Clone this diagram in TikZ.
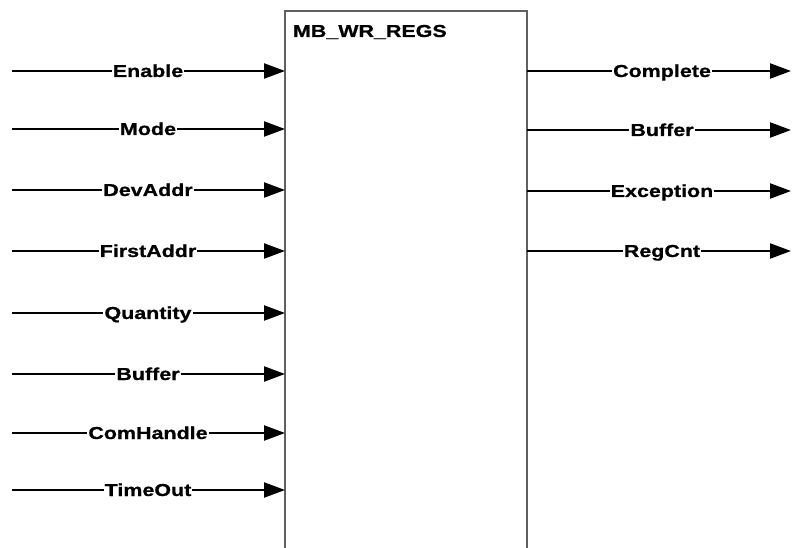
\documentclass[tikz,border=0pt]{standalone}
\usepackage{fontspec}
\setmainfont{Liberation Sans}
\newfontfamily\sigfont[FakeStretch=1.24, FakeBold=0.8]{Liberation Sans}
\usepackage{xcolor}
\usepackage{tikz}
\usetikzlibrary{arrows.meta}
\definecolor{boxgray}{RGB}{96,96,96}

\begin{document}
\begin{tikzpicture}[
  x=1pt, y=-1pt,
  sig/.style={fill=white, inner sep=0.8pt, font={\sigfont\bfseries\fontsize{17.3}{20}\selectfont}, text height=12pt, text depth=0pt},
  wire/.style={line width=2.2pt},
  arr/.style={-{Triangle[length=21pt, width=15pt]}, line width=2.2pt}
]
\useasboundingbox (0,0) rectangle (793,548);
% function block, open at the bottom
\coordinate (blBot) at (285,548);
\coordinate (brTop) at (527,11);
\coordinate (brBot) at (527,548);
\draw[boxgray, line width=1.2pt] (blBot) |- (brTop) -- (brBot);
\node[sig, anchor=north west] (title) at (292,24) {MB\_WR\_REGS};
% inputs
\coordinate (enIn) at (12,71); \node[sig] (en) at (148,71) {Enable}; \coordinate (enPort) at (285,71);
\draw[wire] (enIn) -- (en); \draw[arr] (en) -- (enPort);
\coordinate (moIn) at (12,129); \node[sig] (mo) at (148,129) {Mode}; \coordinate (moPort) at (285,129);
\draw[wire] (moIn) -- (mo); \draw[arr] (mo) -- (moPort);
\coordinate (daIn) at (12,190); \node[sig] (da) at (148,190) {DevAddr}; \coordinate (daPort) at (285,190);
\draw[wire] (daIn) -- (da); \draw[arr] (da) -- (daPort);
\coordinate (faIn) at (12,251); \node[sig] (fa) at (148,251) {FirstAddr}; \coordinate (faPort) at (285,251);
\draw[wire] (faIn) -- (fa); \draw[arr] (fa) -- (faPort);
\coordinate (quIn) at (12,313); \node[sig] (qu) at (148,313) {Quantity}; \coordinate (quPort) at (285,313);
\draw[wire] (quIn) -- (qu); \draw[arr] (qu) -- (quPort);
\coordinate (buIn) at (12,374); \node[sig] (bu) at (148,374) {Buffer}; \coordinate (buPort) at (285,374);
\draw[wire] (buIn) -- (bu); \draw[arr] (bu) -- (buPort);
\coordinate (chIn) at (12,433); \node[sig] (ch) at (148,433) {ComHandle}; \coordinate (chPort) at (285,433);
\draw[wire] (chIn) -- (ch); \draw[arr] (ch) -- (chPort);
\coordinate (toIn) at (12,490); \node[sig] (to) at (148,490) {TimeOut}; \coordinate (toPort) at (285,490);
\draw[wire] (toIn) -- (to); \draw[arr] (to) -- (toPort);
% outputs
\coordinate (coPort) at (527,71); \node[sig] (co) at (662,71) {Complete}; \coordinate (coOut) at (791,71);
\draw[wire] (coPort) -- (co); \draw[arr] (co) -- (coOut);
\coordinate (obPort) at (527,130); \node[sig] (ob) at (662,130) {Buffer}; \coordinate (obOut) at (791,130);
\draw[wire] (obPort) -- (ob); \draw[arr] (ob) -- (obOut);
\coordinate (exPort) at (527,191); \node[sig] (ex) at (662,191) {Exception}; \coordinate (exOut) at (791,191);
\draw[wire] (exPort) -- (ex); \draw[arr] (ex) -- (exOut);
\coordinate (rcPort) at (527,251); \node[sig] (rc) at (662,251) {RegCnt}; \coordinate (rcOut) at (791,251);
\draw[wire] (rcPort) -- (rc); \draw[arr] (rc) -- (rcOut);
\end{tikzpicture}
\end{document}
